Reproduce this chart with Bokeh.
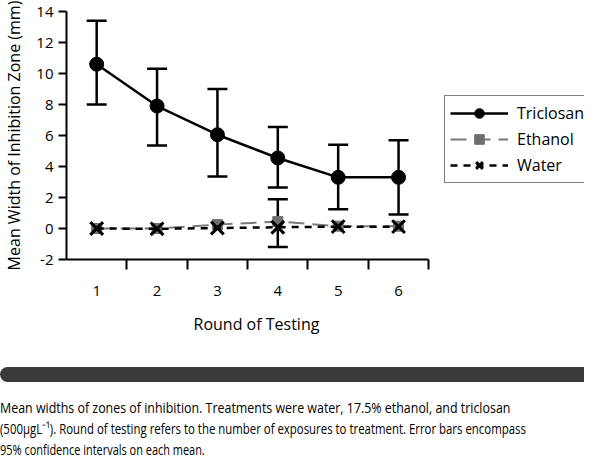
from bokeh.plotting import figure
from bokeh.models import (ColumnDataSource, Whisker, TeeHead, FixedTicker, Legend,
                          LegendItem, Div, Range1d, Title)
from bokeh.layouts import column
from bokeh.embed import file_html
from bokeh.resources import INLINE

# ---- data ----
rounds = [1, 2, 3, 4, 5, 6]
triclosan = [10.6, 7.9, 6.05, 4.55, 3.3, 3.3]
triclosan_lower = [8.0, 5.35, 3.35, 2.65, 1.25, 0.9]
triclosan_upper = [13.4, 10.3, 9.0, 6.55, 5.4, 5.7]
ethanol = [0.0, 0.0, 0.25, 0.45, 0.15, 0.15]
ethanol_ci_rounds = [4]
ethanol_ci_lower = [-1.2]
ethanol_ci_upper = [1.88]
water = [0.0, -0.02, 0.03, 0.08, 0.12, 0.12]
y_ticks = [-2, 0, 2, 4, 6, 8, 10, 12, 14]
y_tick_labels = ["-2", "0", "2", "4", "6", "8", "10", "12", "14"]
x_tick_labels = ["1", "2", "3", "4", "5", "6"]
x_boundaries = [1.5, 2.5, 3.5, 4.5, 5.5, 6.5]
series_names = ["Triclosan", "Ethanol", "Water"]
caption_lines = [
    "Mean widths of zones of inhibition. Treatments were water, 17.5% ethanol, and triclosan",
    "(500\u03bcgL\u207b\u00b9). Round of testing refers to the number of exposures to treatment. "
    "Error bars encompass",
    "95% confidence intervals on each mean.",
]
caption_scales = [0.828, 0.76, 0.73]

FONT = "Open Sans"
X_LO, X_HI = 0.5, 6.5          # extent of the x axis
X_VIEW_HI = 9.08               # frame continues under the legend

p = figure(width=584, height=348, x_range=Range1d(X_LO, X_VIEW_HI), y_range=Range1d(-2, 14),
           output_backend="svg", toolbar_location=None,
           min_border_left=62, min_border_right=0, min_border_top=11, min_border_bottom=89)
p.outline_line_color = None
p.xgrid.grid_line_color = None
p.ygrid.grid_line_color = None
p.background_fill_color = "white"

# x axis
xa = p.xaxis[0]
xa.bounds = (X_LO, X_HI)
xa.ticker = FixedTicker(ticks=rounds, minor_ticks=x_boundaries)
xa.major_label_overrides = {r: lab for r, lab in zip(rounds, x_tick_labels)}
xa.major_tick_out = 0
xa.major_tick_in = 0
xa.minor_tick_out = 10
xa.minor_tick_in = 0
xa.minor_tick_line_width = 2
xa.minor_tick_line_color = "black"
xa.axis_line_width = 2
xa.axis_line_color = "black"
xa.major_label_standoff = 16
xa.major_label_text_font = FONT
xa.major_label_text_font_size = "15px"
xa.major_label_text_color = "black"

xtitle = Title(text="Round of Testing", align="left", offset=127, text_font=FONT,
               text_font_size="16px", text_font_style="normal", text_color="black",
               standoff=24)
p.add_layout(xtitle, "below")

# y axis
ya = p.yaxis[0]
ya.ticker = FixedTicker(ticks=y_ticks)
ya.major_label_overrides = {t: lab for t, lab in zip(y_ticks, y_tick_labels)}
ya.major_tick_out = 8
ya.major_tick_in = 0
ya.major_tick_line_width = 2
ya.major_tick_line_color = "black"
ya.minor_tick_line_color = None
ya.axis_line_width = 2
ya.axis_line_color = "black"
ya.major_label_standoff = 5
ya.major_label_text_font = FONT
ya.major_label_text_font_size = "15px"
ya.major_label_text_color = "black"
ya.axis_label = "Mean Width of Inhibition Zone (mm)"
ya.axis_label_text_font = FONT
ya.axis_label_text_font_size = "16px"
ya.axis_label_text_font_style = "normal"
ya.axis_label_text_color = "black"
ya.axis_label_standoff = 8

# ethanol
eth_line = p.line(rounds, ethanol, line_color="#7a7a7a", line_width=2, line_dash="16 8")
eth_mark = p.scatter(rounds, ethanol, marker="square", size=10, fill_color="#6e6e6e",
                     line_color="#6e6e6e")
eth_src = ColumnDataSource(dict(x=ethanol_ci_rounds, lo=ethanol_ci_lower, up=ethanol_ci_upper))
p.add_layout(Whisker(base="x", lower="lo", upper="up", source=eth_src, line_width=2.5,
                     line_color="black",
                     upper_head=TeeHead(size=20, line_width=2.5, line_color="black"),
                     lower_head=TeeHead(size=20, line_width=2.5, line_color="black")))

# water
wat_line = p.line(rounds, water, line_color="black", line_width=2.5, line_dash="7 6")
wat_mark = p.scatter(rounds, water, marker="x", size=18, line_color="black", line_width=3)

# triclosan
tri_src = ColumnDataSource(dict(x=rounds, lo=triclosan_lower, up=triclosan_upper))
p.add_layout(Whisker(base="x", lower="lo", upper="up", source=tri_src, line_width=2.5,
                     line_color="black",
                     upper_head=TeeHead(size=20, line_width=2.5, line_color="black"),
                     lower_head=TeeHead(size=20, line_width=2.5, line_color="black")))
tri_line = p.line(rounds, triclosan, line_color="black", line_width=2.5)
tri_mark = p.scatter(rounds, triclosan, marker="circle", size=14, fill_color="black",
                     line_color="black")

legend = Legend(items=[
    LegendItem(label=series_names[0], renderers=[tri_line, tri_mark]),
    LegendItem(label=series_names[1], renderers=[eth_line, eth_mark]),
    LegendItem(label=series_names[2], renderers=[wat_line, wat_mark]),
], location=(378, 76))
legend.label_text_font = FONT
legend.label_text_font_size = "16px"
legend.label_text_color = "black"
legend.glyph_width = 58
legend.glyph_height = 24
legend.label_height = 24
legend.label_standoff = 9
legend.spacing = 2
legend.padding = 5
legend.margin = 0
legend.border_line_color = "black"
legend.border_line_width = 1.5
legend.background_fill_color = "white"
legend.background_fill_alpha = 1.0
p.add_layout(legend)

bar = Div(text="", width=584, height=15, margin=(19, 0, 0, 0),
          styles={"background-color": "#3a3a3a", "border-radius": "8px 0 0 8px"})
cap_html = "".join(
    f'<div style="transform:scaleX({s});transform-origin:left top;white-space:nowrap">{t}</div>'
    for t, s in zip(caption_lines, caption_scales))
cap = Div(text=cap_html, width=584, height=63, margin=(15, 0, 0, 0),
          styles={"font-family": "'Open Sans', sans-serif",
                  "font-size": "15px", "line-height": "21px", "color": "black"})

layout = column(p, bar, cap, spacing=0)
open("out.html", "w").write(file_html(layout, INLINE))
